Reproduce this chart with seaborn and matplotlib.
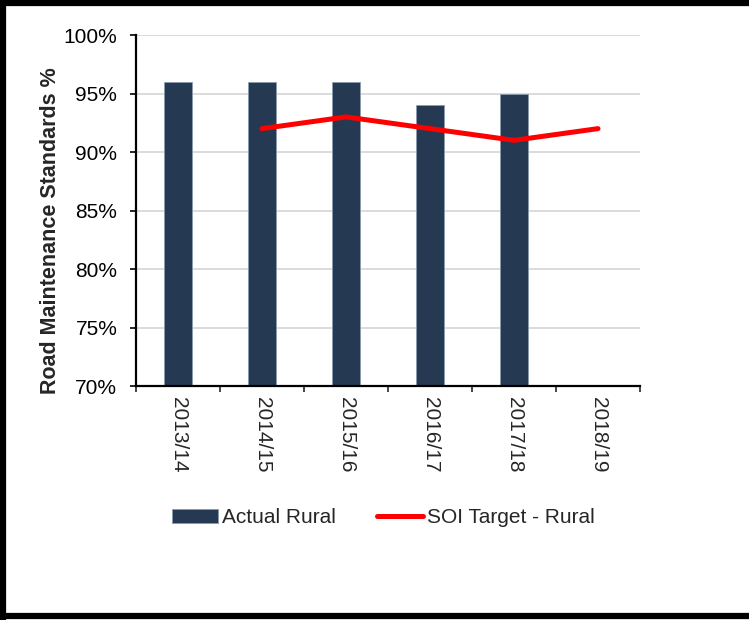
import numpy as np
import matplotlib
matplotlib.use('Agg')
import matplotlib.pyplot as plt
import seaborn as sns
from matplotlib.patches import Patch
from matplotlib.lines import Line2D
from matplotlib.ticker import FuncFormatter, FixedLocator

years = ['2013/14', '2014/15', '2015/16', '2016/17', '2017/18', '2018/19']
actual_rural = [96, 96, 96, 94, 95, np.nan]
soi_target = [np.nan, 92, 93, 92, 91, 92]

bar_color = '#253a52'
line_color = '#ff0000'

sns.set_style('white')
plt.rcParams['font.family'] = ['Liberation Sans', 'DejaVu Sans']

fig = plt.figure(figsize=(7.49, 6.20), dpi=100)
ax = fig.add_axes([0.1816, 0.3774, 0.6729, 0.5661])

sns.barplot(x=years, y=actual_rural, order=years, color=bar_color,
            width=0.33, edgecolor='#8a9bb0', linewidth=0.6, saturation=1,
            ax=ax, zorder=2)
sns.pointplot(x=years, y=soi_target, order=years, color=line_color,
              markers='', linewidth=3.6, errorbar=None, ax=ax, zorder=3)
for ln in ax.lines:
    ln.set_solid_capstyle('round')
    ln.set_solid_joinstyle('round')

ax.set_ylim(70, 100)
ax.set_xlim(-0.5, len(years) - 0.5)
ax.set_yticks(range(70, 101, 5))
ax.yaxis.set_major_formatter(FuncFormatter(lambda v, p: f'{v:.0f}%'))
ax.grid(axis='y', color='#d9d9d9', linewidth=1.3, zorder=0)
ax.set_axisbelow(True)

for s in ['top', 'right']:
    ax.spines[s].set_visible(False)
for s in ['left', 'bottom']:
    ax.spines[s].set_color('black')
    ax.spines[s].set_linewidth(1.6)

ax.tick_params(axis='y', direction='out', length=4.5, width=1.2, pad=9,
               labelsize=15, left=True, colors='black')
ax.tick_params(axis='x', which='major', length=0, pad=8, labelsize=15,
               labelrotation=270)
ax.xaxis.set_minor_locator(FixedLocator(np.arange(-0.5, len(years), 1)))
ax.tick_params(axis='x', which='minor', direction='out', length=4.5,
               width=1.2, bottom=True)
for lab in ax.get_xticklabels():
    lab.set_va('top')
    lab.set_ha('center')

ax.set_xlabel('')
ax.set_ylabel('Road Maintenance Standards %', fontsize=15.5,
              fontweight='bold')
ax.yaxis.set_label_coords(-0.149, 0.444)

handles = [Patch(facecolor=bar_color, edgecolor='#8a9bb0', linewidth=0.6,
                 label='Actual Rural'),
           Line2D([0], [0], color=line_color, linewidth=3.6,
                  solid_capstyle='round', label='SOI Target - Rural')]
fig.legend(handles=handles, loc='center', bbox_to_anchor=(0.512, 0.165),
           ncol=2, frameon=False, fontsize=15, handlelength=2.2,
           handletextpad=0.2, columnspacing=2.0)

# frame around the figure (top, left, bottom)
lw = 4.5
fig.add_artist(Line2D([0, 1], [0.995, 0.995], color='black', linewidth=lw,
                      transform=fig.transFigure))
fig.add_artist(Line2D([0.004, 0.004], [0, 1], color='black', linewidth=lw,
                      transform=fig.transFigure))
fig.add_artist(Line2D([0, 1], [0.006, 0.006], color='black', linewidth=lw,
                      transform=fig.transFigure))

fig.savefig('out.png', dpi=100)
